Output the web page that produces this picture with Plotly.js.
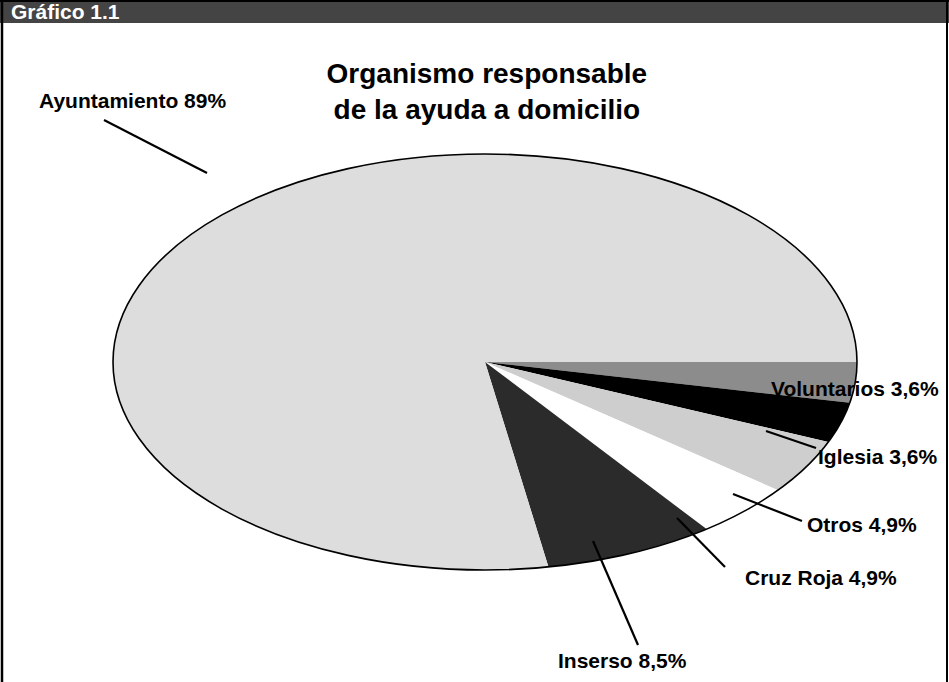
<!DOCTYPE html>
<html>
<head>
<meta charset="utf-8">
<script src="https://cdn.plot.ly/plotly-3.0.1.min.js"></script>
<style>
  html, body { margin: 0; padding: 0; background: #ffffff; }
  #chart { width: 949px; height: 682px; }
</style>
</head>
<body>
<div id="chart"></div>
<script>
// ---- data ----
var categories = ["Voluntarios", "Iglesia", "Otros", "Cruz Roja", "Inserso", "Ayuntamiento"];
var values = [3.6, 3.6, 4.9, 4.9, 8.5, 89];
var valueLabels = ["3,6%", "3,6%", "4,9%", "4,9%", "8,5%", "89%"];
var sliceColors = ["#8c8c8c", "#000000", "#cecece", "#ffffff", "#2b2b2b", "#dddddd"];
var headerText = "Gráfico 1.1";
var titleText = "Organismo responsable<br>de la ayuda a domicilio";

// ---- layout helpers (pixels -> paper) ----
var W = 949, H = 682;
function px(x) { return x / W; }
function py(y) { return 1 - y / H; }

var cx = 485, cy = 362, rx = 372, ry = 208;
var FONT = '"Liberation Sans", Arial, sans-serif';

// label placement (text position in px, leader line from slice to text)
var labelPos = {
  "Ayuntamiento": {x: 37, y: 101, anchor: "left", line: [207, 173, 104, 120]},
  "Voluntarios":  {x: 941, y: 388, anchor: "right", line: null},
  "Iglesia":      {x: 939, y: 456, anchor: "right", line: [766, 431, 816, 448]},
  "Otros":        {x: 919, y: 524, anchor: "right", line: [733, 494, 802, 521]},
  "Cruz Roja":    {x: 899, y: 577, anchor: "right", line: [677, 518, 725, 567]},
  "Inserso":      {x: 622, y: 660, anchor: "center", line: [593, 541, 638, 645]}
};

var annotations = [];
var shapes = [];

// header bar
shapes.push({type: "rect", xref: "paper", yref: "paper", x0: 0, x1: 1, y0: py(23), y1: 1,
  fillcolor: "#444444", line: {width: 0}, layer: "below"});
// frame lines
shapes.push({type: "line", xref: "paper", yref: "paper", x0: px(2), x1: px(2), y0: 0, y1: 1,
  line: {color: "#000", width: 2.5}});
shapes.push({type: "line", xref: "paper", yref: "paper", x0: px(947), x1: px(947), y0: 0, y1: 1,
  line: {color: "#000", width: 2}});
shapes.push({type: "line", xref: "paper", yref: "paper", x0: 0, x1: 1, y0: py(1), y1: py(1),
  line: {color: "#000", width: 2}});

annotations.push({text: headerText, xref: "paper", yref: "paper", x: px(9), y: py(12),
  xanchor: "left", yanchor: "middle", showarrow: false,
  font: {family: FONT, size: 21, color: "#ffffff", weight: "bold"}});

// ellipse outline of the pie
shapes.push({type: "circle", xref: "paper", yref: "paper",
  x0: px(cx - rx), x1: px(cx + rx), y0: py(cy + ry), y1: py(cy - ry),
  line: {color: "#000", width: 1.6}, fillcolor: "rgba(0,0,0,0)"});

categories.forEach(function (c, i) {
  var p = labelPos[c];
  annotations.push({text: c + " " + valueLabels[i], xref: "paper", yref: "paper",
    x: px(p.x), y: py(p.y), xanchor: p.anchor, yanchor: "middle", showarrow: false,
    font: {family: FONT, size: 21, color: "#000", weight: "bold"}});
  if (p.line) {
    shapes.push({type: "line", xref: "paper", yref: "paper",
      x0: px(p.line[0]), y0: py(p.line[1]), x1: px(p.line[2]), y1: py(p.line[3]),
      line: {color: "#000", width: 2.2}});
  }
});

var data = [{
  type: "pie",
  labels: categories,
  values: values,
  sort: false,
  direction: "clockwise",
  rotation: 90,
  textinfo: "none",
  hoverinfo: "label+value",
  showlegend: false,
  marker: {colors: sliceColors, line: {width: 0}},
  domain: {x: [px(cx - ry), px(cx + ry)], y: [py(cy + ry), py(cy - ry)]}
}];

var layout = {
  width: W, height: H,
  margin: {l: 0, r: 0, t: 0, b: 0},
  paper_bgcolor: "#ffffff",
  title: {text: titleText, x: 0.513, xanchor: "center", y: py(83), yanchor: "middle",
    font: {family: FONT, size: 28, color: "#000", weight: "bold"}},
  showlegend: false,
  shapes: shapes,
  annotations: annotations
};

var gd = document.getElementById("chart");
Plotly.newPlot(gd, data, layout, {displayModeBar: false, staticPlot: true}).then(function () {
  // stretch the circular pie horizontally into the ellipse of the original
  var layer = gd.querySelector(".pielayer");
  var c = gd.calcdata[0][0];
  var pcx = c.cx, pr = c.r;
  var s = rx / pr;
  layer.setAttribute("transform",
    "translate(" + pcx + ",0) scale(" + s + ",1) translate(" + (-pcx) + ",0)");
});
</script>
</body>
</html>
